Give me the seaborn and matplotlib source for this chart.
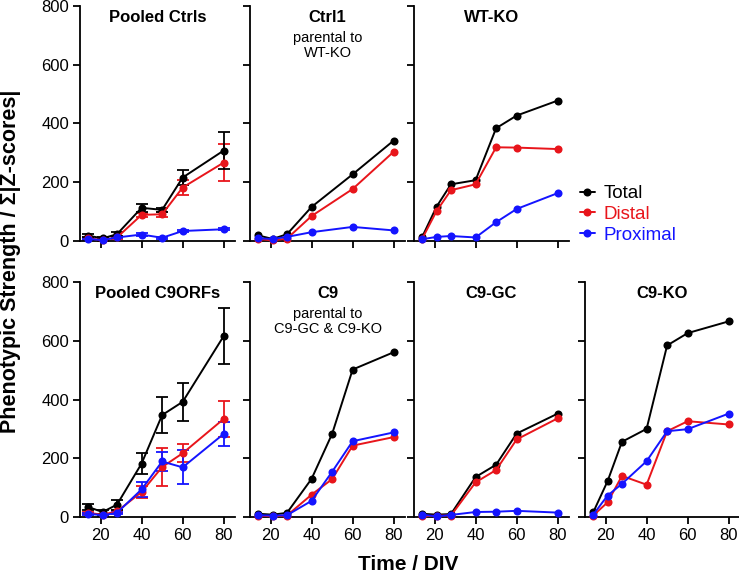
import numpy as np
import pandas as pd
import seaborn as sns
import matplotlib.pyplot as plt

# dias in vitro
dias = [14, 21, 28, 40, 50, 60, 80]
dias_ctrl1 = [14, 21, 28, 40, 60, 80]

# valores (total, distal, proximal)
pooled_ctrls_total = [18, 9, 23, 113, 106, 216, 308]
pooled_ctrls_distal = [9, 3, 12, 89, 91, 182, 267]
pooled_ctrls_prox = [7, 3, 12, 22, 11, 34, 40]
pooled_ctrls_total_err = [5, 3, 6, 13, 6, 25, 62]
pooled_ctrls_distal_err = [3, 2, 4, 8, 8, 25, 64]
pooled_ctrls_prox_err = [2, 1, 3, 4, 3, 4, 4]

ctrl1_total = [19, 7, 23, 116, 227, 342]
ctrl1_distal = [7, 2, 8, 85, 177, 304]
ctrl1_prox = [9, 7, 14, 30, 48, 36]

wtko_total = [14, 117, 193, 207, 384, 427, 478]
wtko_distal = [8, 102, 173, 193, 319, 318, 313]
wtko_prox = [6, 14, 17, 12, 64, 109, 163]

pooled_c9_total = [34, 17, 42, 182, 347, 392, 616]
pooled_c9_distal = [14, 8, 19, 85, 170, 217, 334]
pooled_c9_prox = [11, 6, 14, 94, 189, 169, 283]
pooled_c9_total_err = [11, 6, 17, 35, 62, 65, 94]
pooled_c9_distal_err = [4, 3, 6, 22, 64, 31, 60]
pooled_c9_prox_err = [4, 2, 4, 25, 33, 58, 42]

c9_total = [11, 8, 14, 130, 283, 502, 561]
c9_distal = [5, 2, 5, 76, 129, 243, 272]
c9_prox = [6, 5, 6, 55, 154, 258, 288]

c9gc_total = [11, 8, 10, 136, 178, 284, 352]
c9gc_distal = [2, 5, 5, 118, 160, 264, 336]
c9gc_prox = [8, 2, 7, 17, 18, 21, 15]

c9ko_total = [16, 122, 256, 300, 584, 626, 666]
c9ko_distal = [5, 50, 140, 110, 292, 326, 315]
c9ko_prox = [8, 73, 113, 190, 292, 299, 352]

sns.set_style('ticks')
plt.rcParams['font.family'] = ['Liberation Sans', 'DejaVu Sans']
for k in ['text.color', 'axes.labelcolor', 'xtick.color', 'ytick.color', 'axes.edgecolor']:
    plt.rcParams[k] = 'black'

cores = {'Total': '#000000', 'Distal': '#e8151b', 'Proximal': '#1414ff'}

paineis = [
    ('Pooled Ctrls', None, dias, pooled_ctrls_total, pooled_ctrls_distal, pooled_ctrls_prox,
     (pooled_ctrls_total_err, pooled_ctrls_distal_err, pooled_ctrls_prox_err), 0, 0),
    ('Ctrl1', 'parental to\nWT-KO', dias_ctrl1, ctrl1_total, ctrl1_distal, ctrl1_prox, None, 0, 1),
    ('WT-KO', None, dias, wtko_total, wtko_distal, wtko_prox, None, 0, 2),
    ('Pooled C9ORFs', None, dias, pooled_c9_total, pooled_c9_distal, pooled_c9_prox,
     (pooled_c9_total_err, pooled_c9_distal_err, pooled_c9_prox_err), 1, 0),
    ('C9', 'parental to\nC9-GC & C9-KO', dias, c9_total, c9_distal, c9_prox, None, 1, 1),
    ('C9-GC', None, dias, c9gc_total, c9gc_distal, c9gc_prox, None, 1, 2),
    ('C9-KO', None, dias, c9ko_total, c9ko_distal, c9ko_prox, None, 1, 3),
]

fig = plt.figure(figsize=(7.39, 5.73), dpi=100)
W, H = 739, 573
lefts = [80, 250, 414, 585]
largura = 155
bottoms = [241, 517]
altura = 235

for titulo, sub, x, tot, dis, prox, erros, lin, col in paineis:
    ax = fig.add_axes([lefts[col] / W, (H - bottoms[lin]) / H, largura / W, altura / H])
    df = pd.DataFrame({
        'dia': list(x) * 3,
        'valor': list(tot) + list(dis) + list(prox),
        'tipo': ['Total'] * len(x) + ['Distal'] * len(x) + ['Proximal'] * len(x),
    })
    if erros is not None:
        for tipo, vals, err in zip(['Distal', 'Proximal', 'Total'], [dis, prox, tot],
                                   [erros[1], erros[2], erros[0]]):
            ax.errorbar(x, vals, yerr=err, fmt='none', ecolor=cores[tipo],
                        elinewidth=1.3, capsize=4, capthick=1.3, clip_on=False, zorder=2)
    for tipo in ['Total', 'Distal', 'Proximal']:
        sns.lineplot(data=df[df['tipo'] == tipo], x='dia', y='valor', color=cores[tipo],
                     marker='o', markersize=5.8, markeredgewidth=0, linewidth=1.4,
                     ax=ax, clip_on=False, zorder=3, label=tipo)
    ax.set_xlim(10, 85.5)
    ax.set_ylim(0, 800)
    ax.set_xticks([20, 40, 60, 80])
    ax.set_yticks([0, 200, 400, 600, 800])
    ax.set_xlabel('')
    ax.set_ylabel('')
    sns.despine(ax=ax)
    for s in ['left', 'bottom']:
        ax.spines[s].set_linewidth(1.3)
    ax.tick_params(width=1.3, length=5, labelsize=12, pad=3)
    if col != 0:
        ax.set_yticklabels([])
    if lin == 0:
        ax.set_xticklabels([])
    ax.text(0.5, 0.985, titulo, transform=ax.transAxes, ha='center', va='top',
            fontsize=12, fontweight='bold')
    if sub:
        ax.text(0.5, 0.895, sub, transform=ax.transAxes, ha='center', va='top',
                fontsize=10.5, linespacing=1.15)
    if (lin, col) == (0, 2):
        leg = ax.legend(loc='upper left', bbox_to_anchor=(1.02, 0.27), frameon=False,
                        fontsize=13.5, handlelength=0.8, handletextpad=0.5,
                        labelspacing=0.2, borderaxespad=0)
        for t, h in zip(leg.get_texts(), ['Total', 'Distal', 'Proximal']):
            t.set_color(cores[h])
    else:
        if ax.get_legend():
            ax.get_legend().remove()

fig.text(11 / W, 1 - 261 / H, 'Phenotypic Strength / \u03a3|Z-scores|', rotation=90,
         ha='center', va='center', fontsize=15.5, fontweight='bold')
fig.text(408 / W, 1 - 565 / H, 'Time / DIV', ha='center', va='center',
         fontsize=15, fontweight='bold')

fig.savefig('out.png', dpi=100)
